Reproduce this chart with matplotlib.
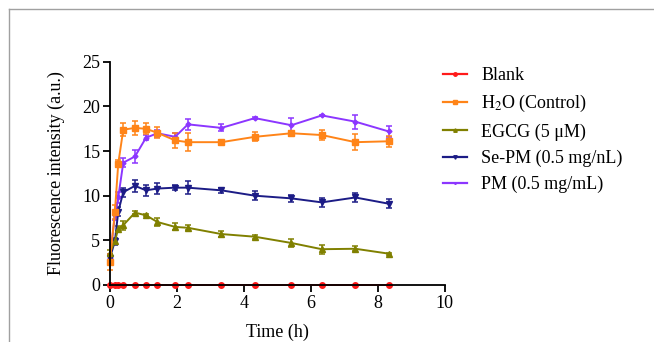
import matplotlib
matplotlib.use("Agg")
import matplotlib.pyplot as plt
from matplotlib.lines import Line2D

plt.rcParams["font.family"] = ["Liberation Serif", "DejaVu Serif"]
plt.rcParams["mathtext.fontset"] = "stix"

time_h = [0, 0.15, 0.25, 0.4, 0.75, 1.08, 1.42, 1.95, 2.33, 3.33, 4.33, 5.42, 6.33, 7.33, 8.33]

blank = [0] * 15
blank_err = [0] * 15
h2o = [2.6, 8.2, 13.6, 17.4, 17.6, 17.5, 17.05, 16.2, 16.0, 16.0, 16.6, 17.0, 16.8, 16.0, 16.1]
h2o_err = [0.9, 0.8, 0.4, 0.7, 0.8, 0.6, 0.6, 0.8, 1.0, 0.3, 0.5, 0.3, 0.6, 0.9, 0.6]
egcg = [3.6, 4.9, 6.3, 6.7, 8.1, 7.8, 7.05, 6.5, 6.4, 5.7, 5.4, 4.7, 4.0, 4.05, 3.5]
egcg_err = [0.3, 0.3, 0.3, 0.5, 0.2, 0.1, 0.5, 0.4, 0.3, 0.3, 0.2, 0.4, 0.5, 0.3, 0.1]
se_pm = [3.0, 4.9, 8.2, 10.4, 11.1, 10.6, 10.8, 10.9, 10.9, 10.6, 10.0, 9.7, 9.25, 9.8, 9.1]
se_pm_err = [0.5, 0.4, 0.5, 0.5, 0.7, 0.6, 0.6, 0.3, 0.7, 0.3, 0.5, 0.4, 0.5, 0.5, 0.5]
pm = [3.0, 7.8, 9.8, 13.7, 14.4, 16.5, 17.0, 16.6, 18.0, 17.6, 18.7, 17.9, 19.0, 18.3, 17.2]
pm_err = [0.5, 0.5, 0.6, 0.5, 0.7, 0.3, 0.4, 0.4, 0.6, 0.4, 0.15, 0.8, 0.1, 0.8, 0.6]

series = [
    ("Blank", blank, blank_err, "#ff1a1a", "o", 4),
    ("H$_2$O (Control)", h2o, h2o_err, "#ff8418", "s", 4),
    ("EGCG (5 μM)", egcg, egcg_err, "#808000", "^", 4),
    ("Se-PM (0.5 mg/nL)", se_pm, se_pm_err, "#1c1c86", "v", 4),
    ("PM (0.5 mg/mL)", pm, pm_err, "#8c36ff", "D", 2.5),
]

fig = plt.figure(figsize=(6.54, 3.42), dpi=100)
ax = fig.add_axes([0.168, 0.167, 0.512, 0.652])

handles = []
for label, vals, err, color, marker, ms in reversed(series):
    ax.errorbar(time_h, vals, yerr=err, color=color, marker=marker, markersize=ms,
                linewidth=1.4, elinewidth=1.1, capsize=2.5, capthick=1.1, clip_on=False)
for label, vals, err, color, marker, ms in series:
    handles.append(Line2D([], [], color=color, marker=marker, markersize=ms - 1.5, linewidth=1.6, label=label))

ax.set_xlim(0, 10)
ax.set_ylim(0, 25)
ax.set_xticks(range(0, 11, 2))
ax.set_yticks(range(0, 26, 5))
for side in ("top", "right"):
    ax.spines[side].set_visible(False)
for side in ("left", "bottom"):
    ax.spines[side].set_linewidth(1.3)
ax.tick_params(direction="out", length=5, width=1.3, labelsize=13, pad=2)
ax.set_xlabel("Time (h)", fontsize=13, labelpad=9)
ax.set_ylabel("Fluorescence intensity (a.u.)", fontsize=13, labelpad=12)

fig.legend(handles=handles, loc="upper left", bbox_to_anchor=(0.653, 0.851), frameon=False,
           fontsize=13, handlelength=1.3, handletextpad=0.8, labelspacing=0.5)

# grey frame lines at the top and left of the picture
fig.add_artist(Line2D([0.014, 1.0], [0.974, 0.974], color="#a0a0a0", linewidth=1))
fig.add_artist(Line2D([0.014, 0.014], [0.0, 0.974], color="#a0a0a0", linewidth=1))

fig.savefig("out.png", dpi=100)
plt.close(fig)
